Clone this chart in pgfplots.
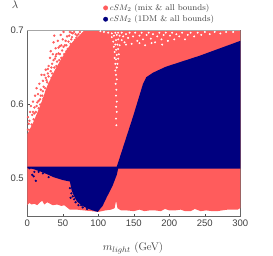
\documentclass[border=0pt]{standalone}
\usepackage{fontspec}
\setsansfont{Liberation Sans}
\usepackage{pgfplots}
\pgfplotsset{compat=1.18}
\definecolor{redp}{HTML}{FF5C5C}
\definecolor{navyp}{HTML}{00007F}
\begin{document}
\begin{tikzpicture}[x=1pt,y=1pt]
\path[use as bounding box] (0,0) rectangle (273,256);
\begin{axis}[
  at={(27.3pt,39.3pt)},anchor=south west,
  scale only axis,width=213pt,height=186.2pt,
  xmin=0,xmax=300,ymin=0.4485,ymax=0.7,
  clip=false,
  axis line style={black!60,line width=0.7pt},
  xtick={0,50,100,150,200,250,300},
  ytick={0.5,0.6,0.7},
  yticklabels={0.5,0.6,0.7},
  tick pos=lower,
  tick align=inside,
  major tick length=2.5pt,
  tick style={black!70,line width=0.5pt},
  ticklabel style={font=\sffamily\fontsize{9.5}{10}\selectfont,text=black!75},
  /pgf/number format/assume math mode=true,
  xlabel={$m_{light}$ (GeV)},
  xlabel style={at={(axis description cs:0.496,-0.168)},anchor=center,text=black!75,font=\fontsize{11}{13}\selectfont},
  ylabel={$\lambda$},
  ylabel style={at={(axis description cs:-0.057,1.137)},anchor=center,rotate=-90,text=black!80,font=\fontsize{11}{13}\selectfont},
  legend style={at={(axis description cs:0.622,1.091)},anchor=center,draw=none,fill=none,inner sep=0pt,outer sep=0pt,
    font=\fontsize{8.4}{10}\selectfont,text=black!75,row sep=-0.5pt,cells={anchor=west}},
  legend cell align=left,
]
\addlegendimage{only marks,mark=*,mark size=2.2pt,color=redp}
\addlegendentry{$cSM_2$ (mix \& all bounds)}
\addlegendimage{only marks,mark=*,mark size=2.2pt,color=navyp}
\addlegendentry{$cSM_2$ (1DM \& all bounds)}
% red region
\addplot[fill=redp,draw=none,forget plot] coordinates {
(0,0.464)(3,0.467)(6,0.465)(10,0.466)(14,0.464)(18,0.468)(21,0.470)(24,0.465)(28,0.468)(32,0.466)(36,0.464)
(42,0.465)(48,0.463)(52,0.464)(56,0.461)(60,0.458)(70,0.458)(80,0.457)(90,0.456)(100,0.455)(110,0.457)(118,0.458)
(123,0.460)(125,0.470)(127,0.460)(132,0.457)(140,0.457)(150,0.456)(158,0.458)(165,0.456)(172,0.457)(180,0.457)(188,0.456)(194,0.459)(200,0.457)(208,0.457)(216,0.458)(222,0.456)(230,0.456)(236,0.459)(244,0.456)(252,0.457)(260,0.456)(268,0.456)(274,0.457)(282,0.458)(290,0.458)(296,0.458)(300,0.460)
(300,0.7)(82,0.7)(75,0.695)(60,0.68)(48,0.662)(38,0.645)(28,0.625)(18,0.598)(8,0.575)(0,0.56)};
% red scattered fringe
\addplot[only marks,mark=*,mark size=1pt,color=redp,forget plot] coordinates {
(1,0.566)(2,0.574)(1,0.583)(4,0.590)(3,0.578)(6,0.573)(7,0.586)(5,0.598)(8,0.604)(10,0.596)
(9,0.580)(12,0.590)(11,0.612)(13,0.622)(14,0.603)(16,0.595)(15,0.614)(18,0.607)(17,0.628)(20,0.640)
(19,0.620)(22,0.632)(21,0.612)(24,0.602)(25,0.622)(26,0.647)(24,0.640)(27,0.633)(29,0.642)(28,0.630)
(31,0.628)(30,0.652)(32,0.663)(33,0.645)(34,0.636)(35,0.655)(33,0.672)(36,0.668)(37,0.684)(38,0.693)
(38,0.650)(39,0.662)(41,0.652)(40,0.676)(42,0.658)(43,0.686)(44,0.669)(45,0.660)(46,0.679)(47,0.694)
(48,0.663)(49,0.673)(50,0.688)(51,0.698)(52,0.668)(53,0.680)(55,0.672)(56,0.692)(57,0.675)(58,0.685)
(60,0.698)(61,0.682)(62,0.688)(63,0.691)(65,0.684)(66,0.698)(67,0.687)(69,0.690)(70,0.693)(72,0.695)
(74,0.698)(75,0.690)(77,0.692)(78,0.696)(80,0.698)(27,0.618)(23,0.608)(18,0.600)(43,0.650)
(12,0.578)(15,0.585)(20,0.590)(6,0.566)(4,0.566)(22,0.618)(30,0.638)(37,0.660)(40,0.665)(46,0.668)
(51,0.678)(44,0.677)(34,0.650)(26,0.636)(16,0.605)(10,0.588)(35,0.642)(54,0.686)(59,0.693)(64,0.696)
(48,0.680)(41,0.668)(29,0.648)(23,0.624)(19,0.612)(13,0.598)(8,0.590)(55,0.680)(68,0.695)(62,0.697)};
% white gaps in the red region
\addplot[only marks,mark=*,mark size=0.75pt,color=white,forget plot] coordinates {
(125.5,0.572)(125,0.581)(126,0.590)(125,0.597)(126,0.604)(125,0.612)(125.5,0.620)(124.5,0.628)(126,0.634)(125,0.640)
(124,0.646)(126,0.650)(127,0.655)(124,0.655)(125,0.661)(128,0.662)(123,0.663)(126,0.667)(129,0.668)(123,0.671)
(125,0.674)(128,0.675)(122,0.678)(127,0.681)(124,0.681)(130,0.680)(121,0.685)(125,0.687)(128,0.688)(133,0.687)
(119,0.691)(122,0.693)(126,0.694)(130,0.693)(135,0.692)(119,0.696)(124,0.697)(128,0.697)(133,0.697)(137,0.684)
(139,0.695)(142,0.690)(144,0.697)(147,0.682)(149,0.692)(152,0.697)(155,0.686)(158,0.693)(161,0.697)(163,0.688)
(166,0.680)(168,0.694)(171,0.697)(174,0.689)(177,0.695)(180,0.684)(183,0.692)(186,0.697)(189,0.688)(192,0.694)
(195,0.697)(198,0.686)(201,0.693)(204,0.697)(207,0.688)(210,0.695)(214,0.692)(218,0.697)(222,0.688)(226,0.694)
(230,0.697)(235,0.692)(240,0.697)(245,0.694)(250,0.698)(257,0.695)(264,0.698)(272,0.696)(280,0.698)(290,0.698)
(108,0.698)(114,0.697)(103,0.699)(139,0.681)(158,0.683)(175,0.683)(190,0.681)};
% navy region
\addplot[fill=navyp,draw=none,forget plot] coordinates {
(0,0.516)(126,0.516)(149,0.584)(163,0.628)(167.6,0.637)(177,0.643)(195,0.651)(243,0.666)(300,0.686)(300,0.5135)(128,0.5135)(126,0.505)(120,0.490)(112,0.475)(106,0.463)(99,0.455)
(92,0.457)(84,0.460)(76,0.464)(70,0.469)(66,0.476)(62.5,0.484)(60,0.496)(50,0.498)(36.6,0.502)(30,0.505)(20,0.509)(8,0.513)(0,0.514)};
\addplot[only marks,mark=*,mark size=0.9pt,color=navyp,forget plot] coordinates {
(3,0.514)(7,0.505)(9,0.503)(10,0.509)(12,0.497)(16,0.509)(22,0.507)(30,0.502)(60,0.487)(62,0.480)(64,0.476)(66,0.472)(61,0.474)(68,0.468)(72,0.464)(76,0.464)(78,0.461)(84,0.459)};
% upper frame edge
\addplot[black!35,line width=1.5pt,forget plot] coordinates {(0,0.7)(300,0.7)};
\end{axis}
\end{tikzpicture}
\end{document}
